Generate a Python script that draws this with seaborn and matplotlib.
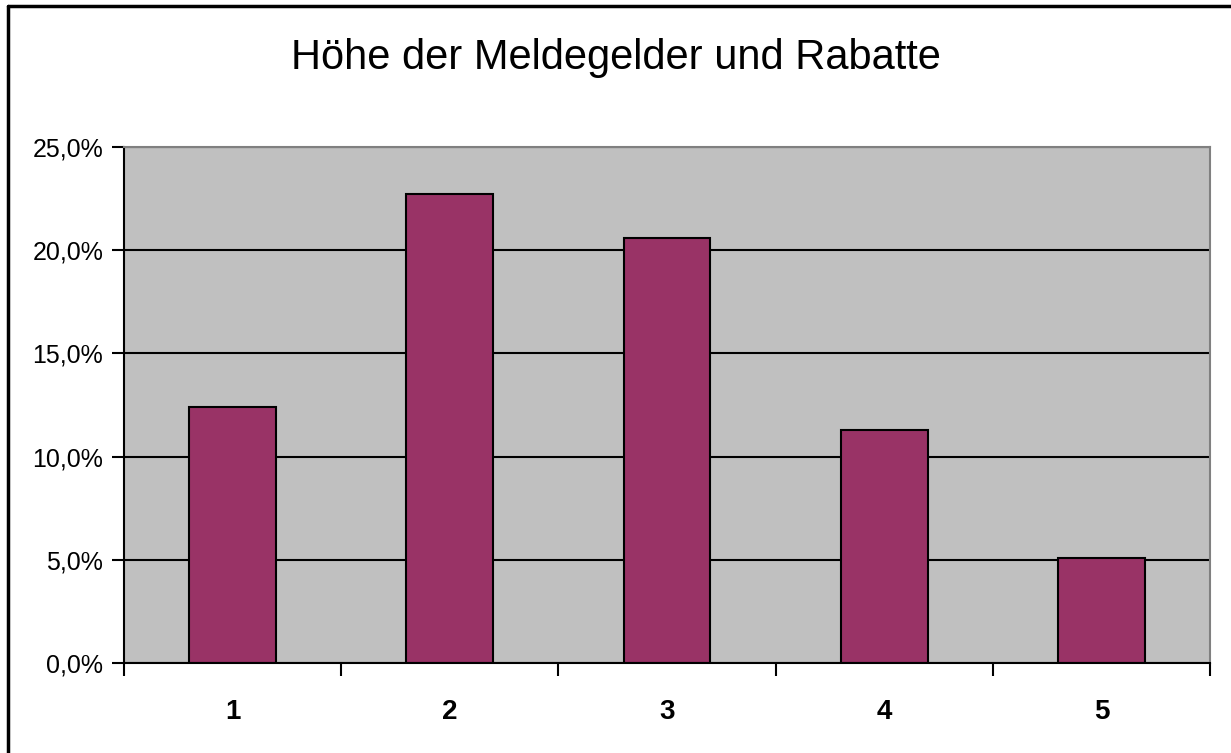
import matplotlib
matplotlib.use("Agg")
import matplotlib.pyplot as plt
from matplotlib.lines import Line2D
from matplotlib.ticker import FuncFormatter, MultipleLocator
import pandas as pd
import seaborn as sns

categories = ["1", "2", "3", "4", "5"]
shares = [12.4, 22.7, 20.6, 11.3, 5.1]  # percent

df = pd.DataFrame({"kategorie": categories, "anteil": shares})

sns.set_style("white")
plt.rcParams["font.family"] = ["Liberation Sans", "DejaVu Sans"]
plt.rcParams["text.color"] = "black"
plt.rcParams["xtick.color"] = "black"
plt.rcParams["ytick.color"] = "black"

fig = plt.figure(figsize=(12.31, 7.53), dpi=100)
ax = fig.add_axes([0.1007, 0.1195, 0.8823, 0.6853])
ax.set_facecolor("#C0C0C0")

sns.barplot(data=df, x="kategorie", y="anteil", color="#993366",
            edgecolor="black", linewidth=1.5, width=0.4, saturation=1, ax=ax)

ax.set_ylim(0, 25)
ax.set_xlim(-0.5, len(categories) - 0.5)
ax.yaxis.set_major_locator(MultipleLocator(5))
ax.yaxis.set_major_formatter(FuncFormatter(lambda v, p: f"{v:.1f}%".replace(".", ",")))
ax.grid(axis="y", color="black", linewidth=1.5)
ax.set_axisbelow(True)

# ticks between categories, labels centred under bars
ax.set_xticks([i - 0.5 for i in range(len(categories) + 1)], minor=True)
ax.tick_params(axis="x", which="minor", length=9, width=1.5, color="black", direction="out")
ax.tick_params(axis="x", which="major", length=0, pad=26, labelsize=20)
ax.tick_params(axis="y", length=9, width=1.5, color="black", direction="out", labelsize=18, pad=6)
ax.xaxis.set_ticks_position("bottom")
ax.yaxis.set_ticks_position("left")
for lbl in ax.get_xticklabels():
    lbl.set_fontweight("bold")

for side in ["left", "bottom"]:
    ax.spines[side].set_color("black")
    ax.spines[side].set_linewidth(1.5)
for side in ["top", "right"]:
    ax.spines[side].set_color("#808080")
    ax.spines[side].set_linewidth(1.5)

ax.set_xlabel("")
ax.set_ylabel("")

fig.text(0.5, 0.9084, "Höhe der Meldegelder und Rabatte", ha="center", va="baseline", fontsize=30)

# outer chart border (left and top edges visible)
fig.lines.append(Line2D([0.0065, 0.0065], [0, 0.9915], transform=fig.transFigure, color="black", linewidth=2.5))
fig.lines.append(Line2D([0.0065, 1], [0.9915, 0.9915], transform=fig.transFigure, color="black", linewidth=2.5))

plt.savefig("out.png", dpi=100)
plt.close()
